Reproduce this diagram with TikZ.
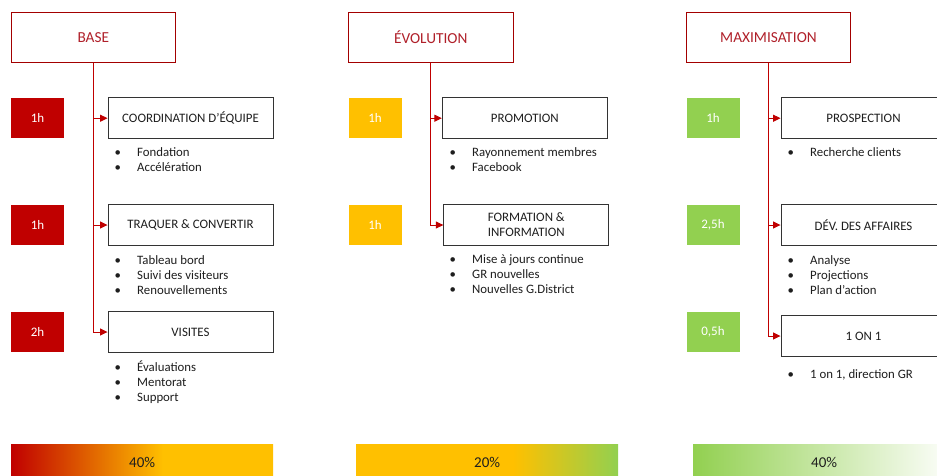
\documentclass[tikz,border=0pt]{standalone}
\usepackage{fontspec}
\setmainfont{Carlito}
\usetikzlibrary{arrows.meta}
\definecolor{cred}{HTML}{C00000}
\definecolor{cyel}{HTML}{FFC000}
\definecolor{cgrn}{HTML}{92D050}
\definecolor{ttl}{HTML}{B0202A}
\definecolor{txt}{HTML}{1E1E1E}
\pgfdeclarehorizontalshading{barbase}{100bp}{color(0bp)=(cred); color(25bp)=(cred); color(54bp)=(cyel); color(75bp)=(cyel); color(100bp)=(cyel)}
\pgfdeclarehorizontalshading{barevo}{100bp}{color(0bp)=(cyel); color(25bp)=(cyel); color(55bp)=(cyel); color(75bp)=(cgrn); color(100bp)=(cgrn)}
\pgfdeclarehorizontalshading{barmax}{100bp}{color(0bp)=(cgrn); color(25bp)=(cgrn); color(75bp)=(white); color(100bp)=(white)}
\newcommand\bitem[3]{\node[bitem] (#1) at (#2) {\makebox[22.5pt][l]{•}#3};}
\begin{document}
\begin{tikzpicture}[x=1pt,y=-1pt,
  titlebox/.style={draw=cred!85!black, line width=0.8pt, fill=white, minimum width=164.5pt, minimum height=49.5pt, inner sep=0pt, text=ttl, font=\fontsize{15.3}{18}\selectfont},
  subbox/.style={draw=black!80, line width=0.9pt, fill=white, minimum width=165pt, minimum height=41pt, inner sep=0pt, text=txt, font=\fontsize{12.9}{15}\selectfont, align=center},
  timebox/.style={minimum width=53pt, minimum height=40pt, inner sep=0pt, text=white, font=\fontsize{13}{15}\selectfont},
  bitem/.style={anchor=base west, inner sep=0pt, text=txt, font=\fontsize{12.8}{15}\selectfont},
  conn/.style={draw=cred, line width=1pt, -{Triangle[length=7.5pt,width=7pt]}},
  bar/.style={minimum width=262pt, minimum height=36pt, inner sep=0pt, anchor=north west, text=txt, font=\fontsize{15}{17}\selectfont},
]
\clip (0,0) rectangle (937,475);
\fill[white] (0,0) rectangle (937,475);

% ---- BASE ----
\node[titlebox] (base) at (93.3,37.5) {BASE};
\node[subbox] (coord) at (190.5,118.2) {COORDINATION D’ÉQUIPE};
\node[subbox] (traq) at (190.5,225) {TRAQUER \& CONVERTIR};
\node[subbox] (visit) at (190.5,332) {VISITES};
\node[timebox, fill=cred] (t1) at (37.5,118.3) {1h};
\node[timebox, fill=cred] (t2) at (37.5,225) {1h};
\node[timebox, fill=cred] (t3) at (37.5,332) {2h};
\draw[conn] (base.south) |- (coord.west);
\draw[conn] (base.south) |- (traq.west);
\draw[conn] (base.south) |- (visit.west);
\bitem{b1}{114.5,156.5}{Fondation}
\bitem{b2}{114.5,171.5}{Accélération}
\bitem{b3}{114.5,264}{Tableau bord}
\bitem{b4}{114.5,279}{Suivi des visiteurs}
\bitem{b5}{114.5,294}{Renouvellements}
\bitem{b6}{114.5,371.5}{Évaluations}
\bitem{b7}{114.5,386.5}{Mentorat}
\bitem{b8}{114.5,401.5}{Support}

% ---- EVOLUTION ----
\node[titlebox] (evo) at (430.8,37.5) {ÉVOLUTION};
\node[subbox] (promo) at (524.8,118.2) {PROMOTION};
\node[subbox] (form) at (526.3,225) {FORMATION \&\\INFORMATION};
\node[timebox, fill=cyel] (t4) at (375,118.3) {1h};
\node[timebox, fill=cyel] (t5) at (375,225) {1h};
\draw[conn] (evo.south) |- (promo.west);
\draw[conn] (evo.south) |- (form.west);
\bitem{e1}{449.5,156.5}{Rayonnement membres}
\bitem{e2}{449.5,171.5}{Facebook}
\bitem{e3}{449.5,263.5}{Mise à jours continue}
\bitem{e4}{449.5,278.5}{GR nouvelles}
\bitem{e5}{449.5,293.5}{Nouvelles G.District}

% ---- MAXIMISATION ----
\node[titlebox] (max) at (768.5,37.5) {MAXIMISATION};
\node[subbox] (prosp) at (863.5,118.2) {PROSPECTION};
\node[subbox] (dev) at (863.5,225) {DÉV. DES AFFAIRES};
\node[subbox] (one) at (863.5,336) {1 ON 1};
\node[timebox, fill=cgrn] (t6) at (713,118.3) {1h};
\node[timebox, fill=cgrn] (t7) at (713,225) {2,5h};
\node[timebox, fill=cgrn] (t8) at (713,332) {0,5h};
\draw[conn] (max.south) |- (prosp.west);
\draw[conn] (max.south) |- (dev.west);
\draw[conn] (max.south) |- (one.west);
\bitem{m1}{787.5,156.5}{Recherche clients}
\bitem{m2}{787.5,264}{Analyse}
\bitem{m3}{787.5,279}{Projections}
\bitem{m4}{787.5,294}{Plan d’action}
\bitem{m5}{787.5,378}{1 on 1, direction GR}

% ---- bars ----
\node[bar, shading=barbase] (bar1) at (11,444.3) {40\%};
\node[bar, shading=barevo] (bar2) at (356,444.3) {20\%};
\node[bar, shading=barmax] (bar3) at (693,444.3) {40\%};
\end{tikzpicture}
\end{document}
